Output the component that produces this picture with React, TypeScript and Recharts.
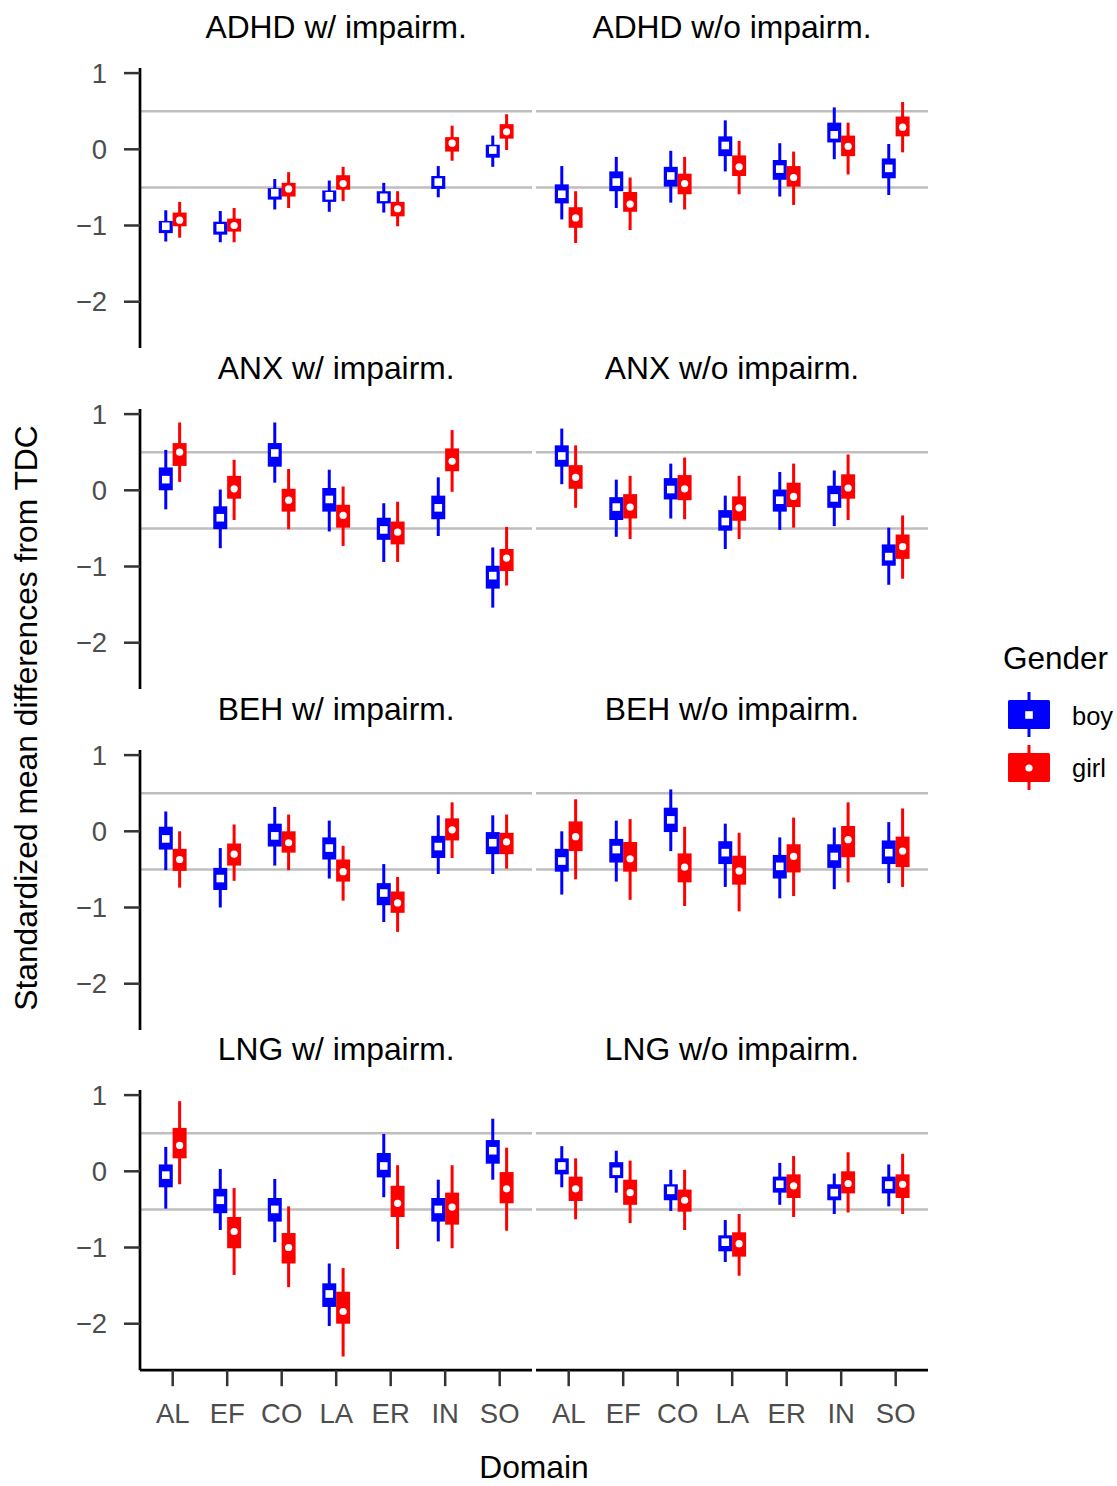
import { ComposedChart, ErrorBar, ReferenceLine, Scatter, XAxis, YAxis } from 'recharts'

// [lower 95%, lower 50%, estimate, upper 50%, upper 95%]
type Interval = [number, number, number, number, number]

const DOMAINS = ['AL', 'EF', 'CO', 'LA', 'ER', 'IN', 'SO']
const DOMAIN_TICKS = [1, 2, 3, 4, 5, 6, 7]
const Y_TICKS = [-2, -1, 0, 1]
const REF_LINES = [0.5, -0.5]

const adhdWBoy: Interval[] = [
  [-1.21, -1.1, -1.01, -0.94, -0.8],
  [-1.22, -1.12, -1.03, -0.95, -0.81],
  [-0.79, -0.66, -0.57, -0.51, -0.39],
  [-0.82, -0.69, -0.61, -0.54, -0.41],
  [-0.83, -0.71, -0.63, -0.55, -0.44],
  [-0.63, -0.52, -0.43, -0.35, -0.22],
  [-0.23, -0.11, -0.01, 0.06, 0.18],
]
const adhdWGirl: Interval[] = [
  [-1.16, -1.01, -0.93, -0.83, -0.69],
  [-1.22, -1.08, -1.0, -0.91, -0.77],
  [-0.77, -0.62, -0.52, -0.44, -0.3],
  [-0.68, -0.53, -0.45, -0.34, -0.23],
  [-1.01, -0.88, -0.78, -0.69, -0.55],
  [-0.15, -0.03, 0.08, 0.16, 0.31],
  [-0.01, 0.14, 0.23, 0.33, 0.46],
]
const adhdWoBoy: Interval[] = [
  [-0.92, -0.71, -0.59, -0.46, -0.22],
  [-0.77, -0.55, -0.43, -0.29, -0.1],
  [-0.7, -0.49, -0.35, -0.23, -0.02],
  [-0.29, -0.09, 0.05, 0.17, 0.38],
  [-0.62, -0.4, -0.26, -0.14, 0.08],
  [-0.13, 0.09, 0.19, 0.35, 0.55],
  [-0.6, -0.38, -0.25, -0.12, 0.07],
]
const adhdWoGirl: Interval[] = [
  [-1.23, -1.03, -0.9, -0.76, -0.55],
  [-1.06, -0.82, -0.72, -0.56, -0.37],
  [-0.79, -0.59, -0.45, -0.32, -0.1],
  [-0.59, -0.35, -0.23, -0.08, 0.11],
  [-0.73, -0.49, -0.37, -0.22, -0.03],
  [-0.33, -0.09, 0.04, 0.18, 0.35],
  [-0.04, 0.17, 0.29, 0.43, 0.62],
]
const anxWBoy: Interval[] = [
  [-0.25, 0.0, 0.14, 0.3, 0.53],
  [-0.76, -0.51, -0.36, -0.21, 0.01],
  [0.1, 0.31, 0.49, 0.62, 0.89],
  [-0.54, -0.28, -0.12, 0.03, 0.27],
  [-0.94, -0.65, -0.52, -0.36, -0.17],
  [-0.6, -0.38, -0.23, -0.07, 0.17],
  [-1.54, -1.29, -1.12, -0.99, -0.75],
]
const anxWGirl: Interval[] = [
  [0.11, 0.32, 0.5, 0.62, 0.89],
  [-0.39, -0.11, 0.02, 0.19, 0.4],
  [-0.51, -0.28, -0.13, 0.02, 0.28],
  [-0.73, -0.49, -0.33, -0.19, 0.05],
  [-0.94, -0.71, -0.55, -0.41, -0.15],
  [-0.02, 0.25, 0.38, 0.55, 0.79],
  [-1.25, -1.06, -0.89, -0.77, -0.48],
]
const anxWoBoy: Interval[] = [
  [0.08, 0.31, 0.45, 0.59, 0.81],
  [-0.61, -0.39, -0.22, -0.09, 0.14],
  [-0.37, -0.12, 0.01, 0.16, 0.35],
  [-0.77, -0.53, -0.41, -0.26, -0.07],
  [-0.52, -0.28, -0.13, 0.01, 0.24],
  [-0.47, -0.23, -0.1, 0.06, 0.26],
  [-1.24, -0.99, -0.87, -0.71, -0.49],
]
const anxWoGirl: Interval[] = [
  [-0.23, 0.02, 0.17, 0.33, 0.59],
  [-0.64, -0.37, -0.22, -0.05, 0.19],
  [-0.38, -0.13, 0.02, 0.2, 0.43],
  [-0.64, -0.4, -0.23, -0.08, 0.19],
  [-0.49, -0.22, -0.08, 0.1, 0.35],
  [-0.39, -0.11, 0.03, 0.21, 0.47],
  [-1.16, -0.9, -0.74, -0.58, -0.33],
]
const behWBoy: Interval[] = [
  [-0.51, -0.24, -0.1, 0.06, 0.26],
  [-1.0, -0.77, -0.62, -0.48, -0.22],
  [-0.45, -0.2, -0.06, 0.1, 0.32],
  [-0.62, -0.37, -0.22, -0.08, 0.14],
  [-1.19, -0.97, -0.81, -0.68, -0.43],
  [-0.56, -0.35, -0.2, -0.06, 0.21],
  [-0.56, -0.3, -0.15, -0.01, 0.21],
]
const behWGirl: Interval[] = [
  [-0.74, -0.52, -0.37, -0.23, 0.0],
  [-0.65, -0.45, -0.3, -0.16, 0.09],
  [-0.51, -0.28, -0.15, 0.0, 0.22],
  [-0.91, -0.66, -0.53, -0.37, -0.19],
  [-1.32, -1.07, -0.94, -0.79, -0.6],
  [-0.35, -0.12, 0.02, 0.17, 0.38],
  [-0.49, -0.3, -0.14, -0.02, 0.22],
]
const behWoBoy: Interval[] = [
  [-0.83, -0.53, -0.39, -0.23, 0.0],
  [-0.66, -0.41, -0.24, -0.1, 0.14],
  [-0.26, -0.01, 0.15, 0.31, 0.55],
  [-0.73, -0.43, -0.28, -0.13, 0.1],
  [-0.88, -0.62, -0.46, -0.31, -0.08],
  [-0.76, -0.48, -0.33, -0.17, 0.05],
  [-0.68, -0.43, -0.28, -0.12, 0.12],
]
const behWoGirl: Interval[] = [
  [-0.63, -0.26, -0.07, 0.13, 0.42],
  [-0.9, -0.53, -0.36, -0.14, 0.16],
  [-0.98, -0.67, -0.47, -0.29, 0.06],
  [-1.05, -0.7, -0.52, -0.32, -0.02],
  [-0.85, -0.54, -0.33, -0.17, 0.18],
  [-0.67, -0.34, -0.11, 0.07, 0.38],
  [-0.73, -0.47, -0.26, -0.07, 0.3],
]
const lngWBoy: Interval[] = [
  [-0.49, -0.21, -0.05, 0.09, 0.32],
  [-0.77, -0.55, -0.38, -0.23, 0.03],
  [-0.93, -0.66, -0.5, -0.35, -0.1],
  [-2.03, -1.78, -1.61, -1.47, -1.21],
  [-0.34, -0.08, 0.07, 0.24, 0.49],
  [-0.92, -0.66, -0.5, -0.35, -0.11],
  [-0.11, 0.1, 0.27, 0.41, 0.69],
]
const lngWGirl: Interval[] = [
  [-0.17, 0.17, 0.34, 0.57, 0.92],
  [-1.36, -1.01, -0.79, -0.6, -0.22],
  [-1.52, -1.21, -1.0, -0.81, -0.46],
  [-2.43, -2.0, -1.84, -1.58, -1.27],
  [-1.02, -0.6, -0.42, -0.19, 0.08],
  [-1.01, -0.7, -0.47, -0.28, 0.08],
  [-0.78, -0.42, -0.23, -0.01, 0.31],
]
const lngWoBoy: Interval[] = [
  [-0.21, -0.04, 0.07, 0.17, 0.33],
  [-0.28, -0.09, 0.0, 0.12, 0.27],
  [-0.52, -0.38, -0.25, -0.17, 0.02],
  [-1.19, -1.05, -0.93, -0.84, -0.64],
  [-0.44, -0.28, -0.17, -0.07, 0.11],
  [-0.56, -0.38, -0.28, -0.17, -0.03],
  [-0.46, -0.29, -0.18, -0.07, 0.09],
]
const lngWoGirl: Interval[] = [
  [-0.63, -0.39, -0.23, -0.07, 0.17],
  [-0.68, -0.44, -0.28, -0.11, 0.14],
  [-0.77, -0.53, -0.38, -0.24, 0.02],
  [-1.37, -1.12, -0.95, -0.8, -0.56],
  [-0.6, -0.35, -0.19, -0.04, 0.2],
  [-0.54, -0.29, -0.16, 0.0, 0.25],
  [-0.56, -0.35, -0.17, -0.04, 0.23],
]

const PANEL_ROWS = [
  { w: 'ADHD w/ impairm.', wo: 'ADHD w/o impairm.', boy: [adhdWBoy, adhdWoBoy], girl: [adhdWGirl, adhdWoGirl] },
  { w: 'ANX w/ impairm.', wo: 'ANX w/o impairm.', boy: [anxWBoy, anxWoBoy], girl: [anxWGirl, anxWoGirl] },
  { w: 'BEH w/ impairm.', wo: 'BEH w/o impairm.', boy: [behWBoy, behWoBoy], girl: [behWGirl, behWoGirl] },
  { w: 'LNG w/ impairm.', wo: 'LNG w/o impairm.', boy: [lngWBoy, lngWoBoy], girl: [lngWGirl, lngWoGirl] },
]

// layout
const Y_MIN = -2.61
const Y_MAX = 1.067
const PLOT_W = 392.4
const PLOT_H = 280.2
const COL_X = [140, 535.8]
const ROW_TOP = 67.7
const ROW_STEP = 340.9
const Y_AXIS_W = 80
const X_AXIS_H = 110
const PAD_TOP = 20 // room so the top tick label is not clipped
const DODGE = 0.127

const BLUE = '#0000ff'
const RED = '#ff0000'
const FONT = '"Liberation Sans", Arial, sans-serif'

const TICK_TEXT = { fill: '#4d4d4d', fontSize: 27.5, fontFamily: FONT }

function formatTick(v: number) {
  return v < 0 ? `\u2212${Math.abs(v)}` : `${v}`
}

function toPoints(values: Interval[], offset: number) {
  return values.map((v, i) => ({
    x: i + 1 + offset,
    y: v[2],
    e95: [v[2] - v[0], v[4] - v[2]],
    e50: [v[2] - v[1], v[3] - v[2]],
  }))
}

const BoyMark = (p: any) => (
  <rect x={p.cx - 3.8} y={p.cy - 3.8} width={7.6} height={7.6} fill="#ffffff" />
)
const GirlMark = (p: any) => <circle cx={p.cx} cy={p.cy} r={3.6} fill="#ffffff" />

function Panel({
  boy,
  girl,
  showY,
  showX,
  left,
  top,
}: {
  boy: Interval[]
  girl: Interval[]
  showY: boolean
  showX: boolean
  left: number
  top: number
}) {
  const width = PLOT_W + (showY ? Y_AXIS_W : 0)
  const height = PLOT_H + PAD_TOP + (showX ? X_AXIS_H : 0)

  return (
    <div style={{ position: 'absolute', left: left - (showY ? Y_AXIS_W : 0), top: top - PAD_TOP }}>
      <ComposedChart width={width} height={height} margin={{ top: PAD_TOP, right: 0, bottom: 0, left: 0 }}>
        <XAxis
          type="number"
          dataKey="x"
          domain={[0.4, 7.6]}
          ticks={DOMAIN_TICKS}
          interval={0}
          allowDataOverflow
          hide={!showX}
          height={X_AXIS_H}
          tickFormatter={(v: number) => DOMAINS[v - 1]}
          tick={TICK_TEXT}
          tickSize={16}
          tickMargin={17}
          axisLine={{ stroke: '#000000', strokeWidth: 2.7 }}
          tickLine={{ stroke: '#333333', strokeWidth: 2.5 }}
        />
        <YAxis
          type="number"
          domain={[Y_MIN, Y_MAX]}
          ticks={Y_TICKS}
          interval={0}
          allowDataOverflow
          hide={!showY}
          width={Y_AXIS_W}
          tickFormatter={formatTick}
          tick={TICK_TEXT}
          tickSize={16}
          tickMargin={17}
          axisLine={{ stroke: '#000000', strokeWidth: 2.7 }}
          tickLine={{ stroke: '#333333', strokeWidth: 2.5 }}
        />
        {REF_LINES.map((y) => (
          <ReferenceLine key={y} y={y} stroke="#bebebe" strokeWidth={2.5} />
        ))}
        <Scatter data={toPoints(boy, -DODGE)} dataKey="y" shape={BoyMark} isAnimationActive={false}>
          <ErrorBar dataKey="e95" direction="y" width={0} stroke={BLUE} strokeWidth={3} isAnimationActive={false} />
          <ErrorBar dataKey="e50" direction="y" width={0} stroke={BLUE} strokeWidth={14} isAnimationActive={false} />
        </Scatter>
        <Scatter data={toPoints(girl, DODGE)} dataKey="y" shape={GirlMark} isAnimationActive={false}>
          <ErrorBar dataKey="e95" direction="y" width={0} stroke={RED} strokeWidth={3} isAnimationActive={false} />
          <ErrorBar dataKey="e50" direction="y" width={0} stroke={RED} strokeWidth={14} isAnimationActive={false} />
        </Scatter>
      </ComposedChart>
    </div>
  )
}

function LegendKey({ y, color, girl }: { y: number; color: string; girl?: boolean }) {
  return (
    <g>
      <line x1={1029} x2={1029} y1={y - 23} y2={y + 22} stroke={color} strokeWidth={3} />
      <rect x={1008} y={y - 15} width={42} height={29} rx={1.5} fill={color} />
      {girl ? (
        <circle cx={1029} cy={y} r={3.6} fill="#ffffff" />
      ) : (
        <rect x={1025.2} y={y - 3.8} width={7.6} height={7.6} fill="#ffffff" />
      )}
    </g>
  )
}

export default function App() {
  return (
    <div
      style={{
        position: 'absolute',
        left: 0,
        top: 0,
        width: 1117,
        height: 1486,
        background: '#ffffff',
        fontFamily: FONT,
        overflow: 'hidden',
      }}
    >
      <svg width={1117} height={1486} style={{ position: 'absolute', left: 0, top: 0 }}>
        {PANEL_ROWS.map((row, r) => (
          <g key={row.w} fontSize={31.8} fill="#000000" textAnchor="middle">
            <text x={COL_X[0] + PLOT_W / 2} y={ROW_TOP + r * ROW_STEP - 30}>
              {row.w}
            </text>
            <text x={COL_X[1] + PLOT_W / 2} y={ROW_TOP + r * ROW_STEP - 30}>
              {row.wo}
            </text>
          </g>
        ))}
        <text x={534} y={1478} fontSize={31.8} textAnchor="middle" fill="#000000">
          Domain
        </text>
        <text
          transform="translate(37 718) rotate(-90)"
          fontSize={31.8}
          textAnchor="middle"
          fill="#000000"
        >
          Standardized mean differences from TDC
        </text>
        <text x={1003} y={669} fontSize={31.5} fill="#000000">
          Gender
        </text>
        <LegendKey y={715} color={BLUE} />
        <LegendKey y={768} color={RED} girl />
        <text x={1072} y={725} fontSize={25.5} fill="#000000">
          boy
        </text>
        <text x={1072} y={777} fontSize={25.5} fill="#000000">
          girl
        </text>
      </svg>
      {PANEL_ROWS.map((row, r) =>
        [0, 1].map((c) => (
          <Panel
            key={`${r}-${c}`}
            boy={row.boy[c]}
            girl={row.girl[c]}
            showY={c === 0}
            showX={r === PANEL_ROWS.length - 1}
            left={COL_X[c]}
            top={ROW_TOP + r * ROW_STEP}
          />
        ))
      )}
    </div>
  )
}
